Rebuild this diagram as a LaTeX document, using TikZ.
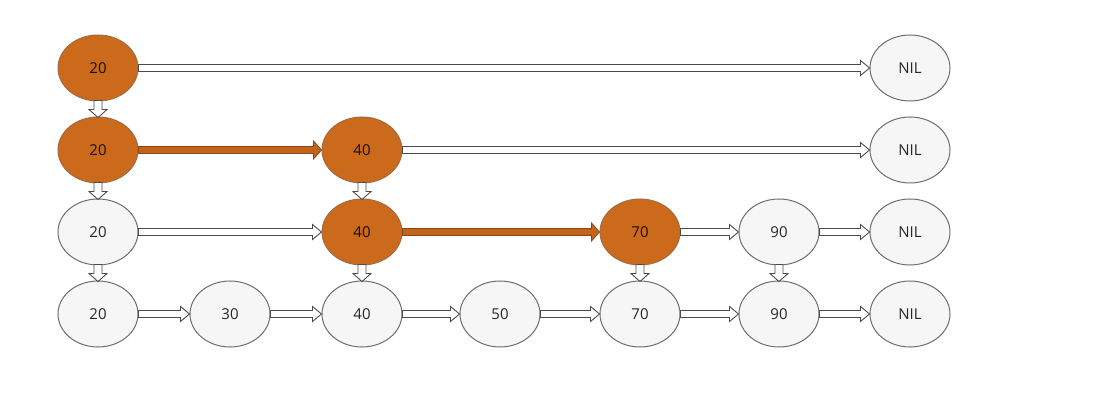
\documentclass[tikz,border=0pt]{standalone}
\usepackage{fontspec}
\setmainfont{Open Sans}
\usetikzlibrary{shapes.geometric,calc}
\definecolor{nodeorange}{RGB}{204,106,28}
\definecolor{orangeline}{RGB}{140,70,20}
\definecolor{nodegray}{RGB}{110,110,110}
\definecolor{nodefill}{RGB}{246,246,246}
\tikzset{
  nd/.style={ellipse, minimum width=80pt, minimum height=66pt, inner sep=0pt,
    draw=nodegray, line width=1pt, fill=nodefill, font=\fontsize{15}{17}\selectfont, text=black!85},
  hot/.style={nd, fill=nodeorange, draw=orangeline!80, text=black!90!orange},
  hollow/.style={draw=black!70, fill=white, line width=0.9pt, line join=miter},
  hotarrow/.style={draw=orangeline, fill=nodeorange!95!black, line width=0.8pt, line join=miter}
}
\newcommand\harr[2]{\path[hollow] let \p1=(#1.east), \p2=(#2.west) in
  (\x1,\y1+3.5pt) -- (\x2-9pt,\y1+3.5pt) -- (\x2-9pt,\y1+7.5pt) -- (\x2,\y1) --
  (\x2-9pt,\y1-7.5pt) -- (\x2-9pt,\y1-3.5pt) -- (\x1,\y1-3.5pt) -- cycle;}
\newcommand\oarr[2]{\path[hotarrow] let \p1=(#1.east), \p2=(#2.west) in
  (\x1,\y1+3.5pt) -- (\x2-8pt,\y1+3.5pt) -- (\x2-8pt,\y1+9pt) -- (\x2,\y1) --
  (\x2-8pt,\y1-9pt) -- (\x2-8pt,\y1-3.5pt) -- (\x1,\y1-3.5pt) -- cycle;}
\newcommand\varr[2]{\path[hollow] let \p1=(#1.south), \p2=(#2.north) in
  (\x1-4pt,\y1+1pt) -- (\x1-4pt,\y2+7pt) -- (\x1-9pt,\y2+7pt) -- (\x1,\y2-1pt) --
  (\x1+9pt,\y2+7pt) -- (\x1+4pt,\y2+7pt) -- (\x1+4pt,\y1+1pt) -- cycle;}
\begin{document}
\begin{tikzpicture}[x=1pt,y=-1pt]
\useasboundingbox (0,0) rectangle (1093,406);
% row 1
\node[hot] (a1) at (98,68) {20};
\node[nd] (n1) at (910,68) {NIL};
% row 2
\node[hot] (a2) at (98,150) {20};
\node[hot] (c2) at (362,150) {40};
\node[nd] (n2) at (910,150) {NIL};
% row 3
\node[nd] (a3) at (98,232) {20};
\node[hot] (c3) at (362,232) {40};
\node[hot] (e3) at (640,232) {70};
\node[nd] (f3) at (779,232) {90};
\node[nd] (n3) at (910,232) {NIL};
% row 4
\node[nd] (a4) at (98,314) {20};
\node[nd] (b4) at (230,314) {30};
\node[nd] (c4) at (362,314) {40};
\node[nd] (d4) at (500,314) {50};
\node[nd] (e4) at (640,314) {70};
\node[nd] (f4) at (779,314) {90};
\node[nd] (n4) at (910,314) {NIL};
% horizontal links
\harr{a1}{n1}
\oarr{a2}{c2}
\harr{c2}{n2}
\harr{a3}{c3}
\oarr{c3}{e3}
\harr{e3}{f3}
\harr{f3}{n3}
\harr{a4}{b4}
\harr{b4}{c4}
\harr{c4}{d4}
\harr{d4}{e4}
\harr{e4}{f4}
\harr{f4}{n4}
% vertical links
\varr{a1}{a2}
\varr{a2}{a3}
\varr{a3}{a4}
\varr{c2}{c3}
\varr{c3}{c4}
\varr{e3}{e4}
\varr{f3}{f4}
\end{tikzpicture}
\end{document}
